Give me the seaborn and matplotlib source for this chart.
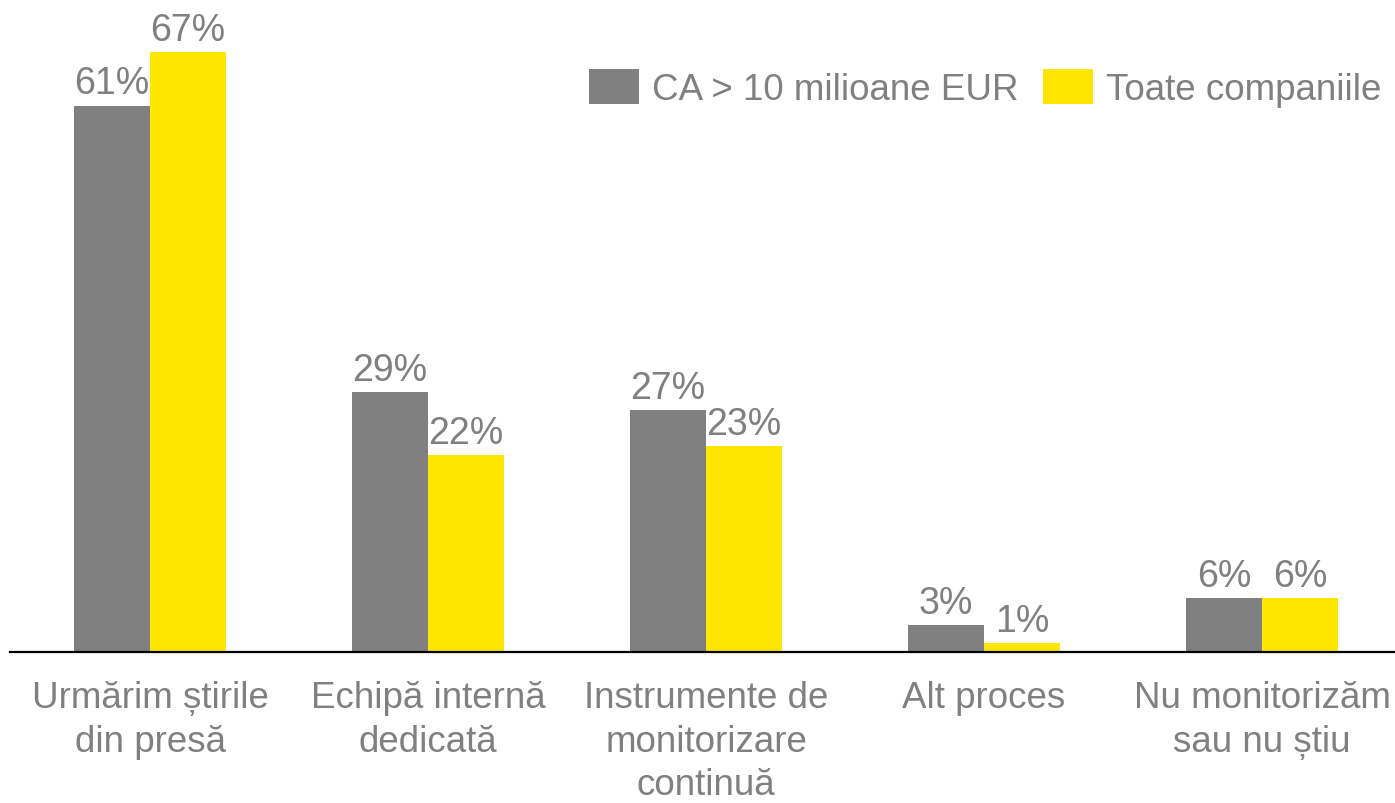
import matplotlib
matplotlib.use("Agg")
import matplotlib.pyplot as plt
import seaborn as sns
import pandas as pd

categories = ["Urmărim știrile\ndin presă", "Echipă internă\ndedicată",
              "Instrumente de\nmonitorizare\ncontinuă", "Alt proces",
              "Nu monitorizăm\nsau nu știu"]
series = ["CA > 10 milioane EUR", "Toate companiile"]
values_big = [61, 29, 27, 3, 6]
values_all = [67, 22, 23, 1, 6]
colors = ["#808080", "#FFE600"]
text_color = "#808080"

df = pd.DataFrame({
    "cat": categories * 2,
    "series": [series[0]] * len(categories) + [series[1]] * len(categories),
    "value": values_big + values_all,
})

sns.set_theme(style="white")
plt.rcParams["font.family"] = ["Liberation Sans", "DejaVu Sans"]

fig = plt.figure(figsize=(13.95, 8.04), dpi=100)
ax = fig.add_axes([10 / 1395, 1 - 653 / 804, 1 - 10 / 1395, 653 / 804])

sns.barplot(data=df, x="cat", y="value", hue="series", order=categories,
            hue_order=series, palette=colors, width=0.545, saturation=1,
            linewidth=0, ax=ax)

for cont, vals in zip(ax.containers, [values_big, values_all]):
    ax.bar_label(cont, labels=[f"{v}%" for v in vals], padding=3,
                 fontsize=27, color=text_color)

ax.set_xlim(-0.5036, 4.478)
ax.set_ylim(0, 72.9)
ax.set_xlabel("")
ax.set_ylabel("")
ax.set_yticks([])
for s in ["top", "right", "left"]:
    ax.spines[s].set_visible(False)
ax.spines["bottom"].set_color("black")
ax.spines["bottom"].set_linewidth(1.6)
ax.tick_params(axis="x", length=0, pad=20.5, labelsize=26.5, labelcolor=text_color)
for t in ax.get_xticklabels():
    t.set_linespacing(1.3)

leg = ax.legend(loc="center", bbox_to_anchor=(985 / 1395, 1 - 89 / 804),
                bbox_transform=fig.transFigure, ncol=2, frameon=False,
                fontsize=26.5, handlelength=1.35, handleheight=1.08,
                handletextpad=0.35, columnspacing=0.68, borderpad=0,
                borderaxespad=0)
for t in leg.get_texts():
    t.set_color(text_color)

fig.savefig("out.png", dpi=100)
